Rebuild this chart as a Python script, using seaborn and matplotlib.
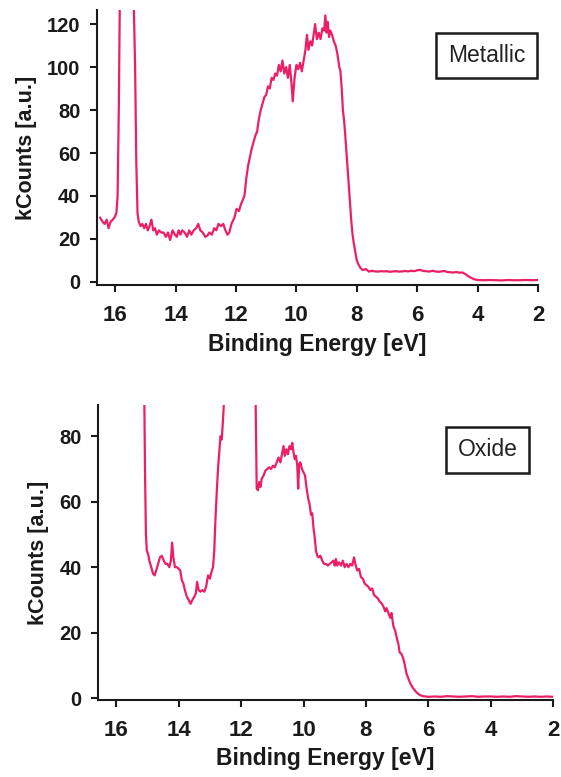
import numpy as np
import pandas as pd
import matplotlib
matplotlib.use("Agg")
import matplotlib.pyplot as plt
import seaborn as sns

# Valence-band photoemission spectra (binding energy in eV, counts in kCounts)
metallic_energy = [
    16.50, 16.42, 16.35, 16.28, 16.22, 16.15, 16.08, 16.02, 15.96, 15.92,
    15.88, 15.84, 15.75, 15.62, 15.50, 15.40, 15.34, 15.30, 15.26, 15.22,
    15.16, 15.10, 15.04, 14.98, 14.92, 14.86, 14.80, 14.74, 14.68, 14.62,
    14.55, 14.48, 14.40, 14.32, 14.25, 14.18, 14.10, 14.02, 13.96, 13.90,
    13.84, 13.78, 13.70, 13.62, 13.55, 13.48, 13.40, 13.32, 13.25, 13.18,
    13.10, 13.02, 12.95, 12.88, 12.80, 12.72, 12.65, 12.58, 12.50, 12.42,
    12.35, 12.28, 12.22, 12.15, 12.05, 11.98, 11.90, 11.84, 11.78, 11.72,
    11.66, 11.60, 11.54, 11.48, 11.42, 11.36, 11.30, 11.24, 11.18, 11.12,
    11.06, 11.00, 10.94, 10.88, 10.82, 10.76, 10.70, 10.64, 10.58, 10.52,
    10.46, 10.40, 10.34, 10.28, 10.22, 10.16, 10.12, 10.06, 10.00, 9.94,
    9.88, 9.82, 9.76, 9.70, 9.65, 9.60, 9.54, 9.48, 9.42, 9.38,
    9.32, 9.26, 9.20, 9.14, 9.08, 9.04, 9.00, 8.96, 8.92, 8.88,
    8.82, 8.76, 8.70, 8.64, 8.58, 8.54, 8.50, 8.46, 8.42, 8.38,
    8.34, 8.30, 8.26, 8.22, 8.18, 8.14, 8.10, 8.05, 8.00, 7.94,
    7.88, 7.80, 7.70, 7.60, 7.50, 7.40, 7.30, 7.20, 7.10, 7.00,
    6.90, 6.80, 6.70, 6.60, 6.50, 6.40, 6.30, 6.20, 6.10, 6.00,
    5.90, 5.80, 5.70, 5.60, 5.50, 5.40, 5.30, 5.20, 5.10, 5.00,
    4.90, 4.80, 4.70, 4.60, 4.50, 4.40, 4.30, 4.20, 4.10, 4.00,
    3.80, 3.60, 3.40, 3.20, 3.00, 2.80, 2.60, 2.40, 2.20, 2.00,
]
metallic_counts = [
    30, 28, 27, 29, 25, 28, 29, 30, 32, 40,
    80, 140, 300, 420, 300, 140, 100, 55, 32, 28,
    26, 27, 25, 27, 24, 26, 29, 24, 25, 22,
    24, 23, 23, 21, 23, 19.5, 24, 22, 21, 24,
    22, 24, 23, 21, 24, 22, 24, 25, 27, 24,
    23, 21, 21.5, 23, 22, 25, 24, 27, 26, 27,
    24, 22, 23, 27, 30, 34, 33, 36, 38, 40,
    48, 54, 58, 62, 65, 68, 70, 76, 80, 83,
    86, 87, 91, 90, 95, 94, 97, 96, 101, 98,
    103, 97, 100, 95, 101, 92, 84, 95, 101, 99,
    102, 98, 103, 108, 115, 108, 112, 110, 116, 120,
    113, 116, 113, 118, 117, 124, 116, 121, 114, 117,
    115, 112, 110, 106, 100, 98, 90, 80, 75, 68,
    60, 52, 44, 36, 28, 22, 18, 14, 10, 8,
    6.5, 5.5, 6.0, 4.8, 5.2, 4.9, 4.8, 5.0, 4.9, 5.0,
    4.7, 4.9, 5.0, 4.8, 4.9, 5.1, 4.9, 5.2, 5.0, 5.4,
    5.6, 5.1, 5.0, 4.8, 5.2, 4.9, 4.7, 4.9, 5.1, 4.6,
    4.5, 4.4, 4.6, 4.3, 4.4, 3.6, 2.6, 1.8, 1.2, 0.9,
    0.8, 0.9, 0.8, 0.7, 0.9, 0.8, 0.8, 0.9, 0.8, 0.9,
]

oxide_energy = [
    15.16, 15.12, 15.08, 15.05, 15.02, 14.98, 14.94, 14.88, 14.82, 14.77,
    14.72, 14.66, 14.60, 14.54, 14.48, 14.42, 14.36, 14.30, 14.25, 14.21,
    14.17, 14.12, 14.06, 14.00, 13.95, 13.90, 13.85, 13.80, 13.74, 13.68,
    13.62, 13.56, 13.50, 13.45, 13.41, 13.36, 13.30, 13.24, 13.18, 13.12,
    13.06, 13.00, 12.95, 12.90, 12.86, 12.82, 12.78, 12.74, 12.70, 12.66,
    12.62, 12.58, 12.54, 12.45, 12.00, 11.60, 11.54, 11.50, 11.46, 11.42,
    11.38, 11.34, 11.28, 11.22, 11.16, 11.10, 11.04, 10.98, 10.92, 10.86,
    10.80, 10.74, 10.68, 10.64, 10.60, 10.55, 10.50, 10.45, 10.40, 10.36,
    10.32, 10.28, 10.24, 10.20, 10.17, 10.14, 10.10, 10.05, 10.00, 9.95,
    9.90, 9.85, 9.80, 9.76, 9.72, 9.68, 9.64, 9.60, 9.56, 9.52,
    9.46, 9.40, 9.34, 9.28, 9.22, 9.16, 9.10, 9.04, 9.00, 8.96,
    8.92, 8.86, 8.80, 8.74, 8.68, 8.62, 8.56, 8.50, 8.44, 8.38,
    8.34, 8.28, 8.22, 8.16, 8.10, 8.04, 7.98, 7.92, 7.86, 7.80,
    7.74, 7.68, 7.62, 7.56, 7.50, 7.44, 7.38, 7.34, 7.28, 7.22,
    7.18, 7.12, 7.06, 7.00, 6.96, 6.92, 6.86, 6.80, 6.75, 6.70,
    6.64, 6.58, 6.50, 6.42, 6.34, 6.26, 6.18, 6.10, 6.00, 5.80,
    5.60, 5.40, 5.20, 5.00, 4.80, 4.60, 4.40, 4.20, 4.00, 3.80,
    3.60, 3.40, 3.20, 3.00, 2.80, 2.60, 2.40, 2.20, 2.00,
]
oxide_counts = [
    200, 110, 70, 50, 45, 44, 42, 40, 38, 37.5,
    39, 41, 43, 43.5, 42, 41, 41, 40, 42, 47.5,
    43, 40, 40, 39.5, 39, 36, 35, 33, 31, 30,
    28.8, 30, 31, 32, 35.5, 33, 32.5, 33, 32.5, 34,
    37.5, 36.5, 38.5, 40, 45, 55, 63, 70, 75, 80,
    79, 85, 92, 200, 350, 200, 95, 64, 63.5, 66,
    64.5, 67, 68, 69.5, 70, 70.5, 70, 71, 70.5, 72,
    73.5, 72, 75, 77, 74, 76, 74.5, 77, 76, 78,
    75, 73, 74, 71, 64, 71.5, 72, 70, 69, 68,
    64, 61, 59, 56, 56.5, 52, 49, 45, 43.5, 43,
    43.5, 42, 41, 41, 40.5, 41, 41.5, 42, 40.5, 42.5,
    40.5, 41.5, 40.5, 42, 40, 41, 40, 41, 40.5, 43,
    41, 39, 39.5, 37, 36.5, 35, 34.5, 34, 33, 33.5,
    31.5, 31, 30.5, 29.5, 29, 28, 26.5, 27.5, 26, 24.5,
    26, 22, 20.5, 18, 16.5, 14, 13.5, 12, 10, 7.5,
    6, 4.5, 3.2, 2.2, 1.4, 0.9, 0.6, 0.5, 0.4, 0.5,
    0.4, 0.6, 0.5, 0.4, 0.5, 0.6, 0.4, 0.5, 0.5, 0.4,
    0.5, 0.4, 0.6, 0.5, 0.4, 0.5, 0.4, 0.5, 0.4,
]

x_ticks = [16, 14, 12, 10, 8, 6, 4, 2]
metallic_yticks = [0, 20, 40, 60, 80, 100, 120]
oxide_yticks = [0, 20, 40, 60, 80]

LINE_COLOR = "#EC1F66"
INK = "#1a1a1a"

sns.set_theme(style="ticks")
plt.rcParams["font.family"] = ["Liberation Sans", "DejaVu Sans"]

fig = plt.figure(figsize=(5.61, 7.77), dpi=100)
ax_top = fig.add_axes([0.173, 0.633, 0.786, 0.354])
ax_bot = fig.add_axes([0.175, 0.099, 0.811, 0.380])

panels = [
    (ax_top, metallic_energy, metallic_counts, metallic_yticks,
     (-1.5, 126.5), (16.6, 2.0), "Metallic", (0.883, 0.835)),
    (ax_bot, oxide_energy, oxide_counts, oxide_yticks,
     (-0.6, 89.6), (16.58, 2.0), "Oxide", (0.856, 0.847)),
]

for ax, energy, counts, yticks, ylim, xlim, tag, tag_pos in panels:
    df = pd.DataFrame({"energy": energy, "counts": counts})
    sns.lineplot(data=df, x="energy", y="counts", ax=ax, color=LINE_COLOR,
                 linewidth=1.6, estimator=None)
    ax.set_xlim(*xlim)
    ax.set_ylim(*ylim)
    ax.set_xticks(x_ticks)
    ax.set_yticks(yticks)
    sns.despine(ax=ax)
    for side in ("left", "bottom"):
        ax.spines[side].set_linewidth(1.5)
        ax.spines[side].set_color(INK)
    ax.tick_params(axis="x", direction="out", length=5, width=1.5, pad=9,
                   labelsize=16, colors=INK)
    ax.tick_params(axis="y", direction="out", length=5, width=1.5, pad=7,
                   labelsize=14.5, colors=INK)
    for lbl in ax.get_xticklabels() + ax.get_yticklabels():
        lbl.set_fontweight("bold")
    ax.set_xlabel("Binding Energy [eV]", fontsize=16.5, fontweight="bold",
                  color=INK, labelpad=5)
    ax.set_ylabel("kCounts [a.u.]", fontsize=15.5, fontweight="bold",
                  color=INK, labelpad=7)
    ax.text(tag_pos[0], tag_pos[1], tag,
            transform=ax.transAxes, ha="center", va="center", fontsize=16.5,
            color="#222222",
            bbox=dict(boxstyle="square,pad=0.5", facecolor="white",
                      edgecolor=INK, linewidth=1.8))

fig.savefig("out.png", dpi=100)
